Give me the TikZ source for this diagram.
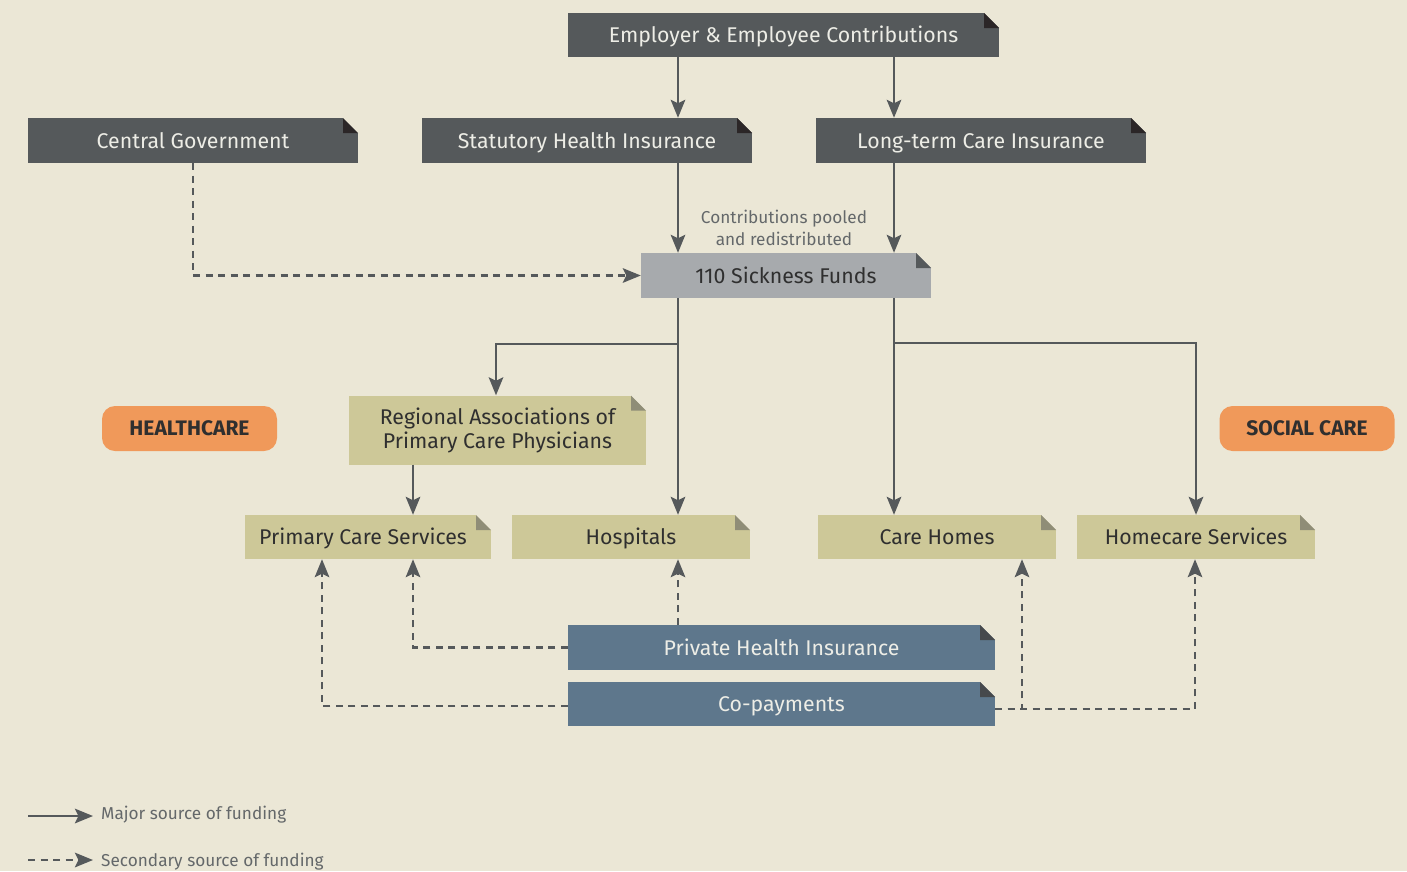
\documentclass[tikz,border=0pt]{standalone}
\usepackage{fontspec}
\setmainfont{Fira Sans}
\usetikzlibrary{arrows.meta}
\definecolor{bg}{HTML}{EBE7D6}
\definecolor{darkbox}{HTML}{55595B}
\definecolor{darkfold}{HTML}{2B2627}
\definecolor{midgrey}{HTML}{A7AAAD}
\definecolor{midfold}{HTML}{55595B}
\definecolor{khaki}{HTML}{CDC898}
\definecolor{khakifold}{HTML}{8F8D77}
\definecolor{slate}{HTML}{5E778C}
\definecolor{slatefold}{HTML}{46494C}
\definecolor{pill}{HTML}{F0995A}
\definecolor{txtlight}{HTML}{EDEDE6}
\definecolor{txtdark}{HTML}{2F2F2F}
\definecolor{linec}{HTML}{55595B}
\definecolor{labelc}{HTML}{64686A}
\tikzset{
  fold/.style={path picture={
    \fill[bg] ([xshift=-15pt]path picture bounding box.north east) -- (path picture bounding box.north east) -- ([yshift=-15pt]path picture bounding box.north east) -- cycle;
    \fill[#1] ([xshift=-15pt]path picture bounding box.north east) -- ([xshift=-15pt,yshift=-15pt]path picture bounding box.north east) -- ([yshift=-15pt]path picture bounding box.north east) -- cycle;
  }},
  box/.style={inner sep=0pt, font=\fontsize{21.3}{24}\selectfont, align=center, text height=15.4pt, text depth=0pt},
  box2/.style={inner sep=0pt, font=\fontsize{21.3}{24}\selectfont, align=center},
  darkbx/.style={box, fill=darkbox, text=txtlight, fold=darkfold},
  greybx/.style={box, fill=midgrey, text=txtdark, fold=midfold},
  khakibx/.style={box, fill=khaki, text=txtdark, fold=khakifold},
  khakibxtwo/.style={box2, fill=khaki, text=txtdark, fold=khakifold},
  slatebx/.style={box, fill=slate, text=txtlight, fold=slatefold},
  pillbx/.style={fill=pill, rounded corners=13pt, text=txtdark, inner sep=0pt, font=\fontsize{21}{24}\selectfont\bfseries, minimum width=175pt, minimum height=45pt, text height=14.6pt, text depth=0pt},
  major/.style={draw=linec, line width=2.6pt, -{Stealth[length=18pt,width=14.5pt,inset=3.5pt]}},
  minor/.style={major, dash pattern=on 7pt off 5.5pt},
  lbl/.style={text=labelc, font=\fontsize{17.2}{22}\selectfont, inner sep=0pt, align=center},
}
\begin{document}
\begin{tikzpicture}[x=1pt,y=-1pt]
\fill[bg] (0,0) rectangle (1407,871);
\useasboundingbox (0,0) rectangle (1407,871);

\node[darkbx, minimum width=431pt, minimum height=44pt] (emp) at (783.5,35) {Employer \& Employee Contributions};
\node[darkbx, minimum width=330pt, minimum height=45pt] (cg) at (193,140.5) {Central Government};
\node[darkbx, minimum width=330pt, minimum height=45pt] (shi) at (587,140.5) {Statutory Health Insurance};
\node[darkbx, minimum width=330pt, minimum height=45pt] (ltc) at (981,140.5) {Long-term Care Insurance};
\node[greybx, minimum width=290pt, minimum height=45pt] (sf) at (786,275.5) {110 Sickness Funds};
\node[lbl] (pool) at (784,228) {Contributions pooled\\and redistributed};
\node[khakibxtwo, minimum width=297pt, minimum height=69pt] (reg) at (497.5,430) {Regional Associations of\\Primary Care Physicians};
\node[khakibx, minimum width=246pt, minimum height=44pt] (pcs) at (368,537) {Primary Care Services\hspace{10pt}};
\node[khakibx, minimum width=238pt, minimum height=44pt] (hos) at (631,537) {Hospitals};
\node[khakibx, minimum width=238pt, minimum height=44pt] (ch) at (937,537) {Care Homes};
\node[khakibx, minimum width=238pt, minimum height=44pt] (hcs) at (1196,537) {Homecare Services};
\node[slatebx, minimum width=427pt, minimum height=45pt] (phi) at (781.5,647.5) {Private Health Insurance};
\node[slatebx, minimum width=427pt, minimum height=44pt] (cop) at (781.5,704) {Co-payments};
\node[pillbx] (hc) at (189.5,428.5) {HEALTHCARE};
\node[pillbx] (sc) at (1307,428.5) {SOCIAL CARE};

% major flows
\draw[major] (emp.south -| 678,0) -- (shi.north -| 678,0);
\draw[major] (emp.south -| 894,0) -- (ltc.north -| 894,0);
\draw[major] (shi.south -| 678,0) -- (sf.north -| 678,0);
\draw[major] (ltc.south -| 894,0) -- (sf.north -| 894,0);
\draw[major] (sf.south -| 678,0) -- (hos.north -| 678,0);
\draw[major] (sf.south -| 678,0) |- (587,344) -| (reg.north -| 496,0);
\draw[major] (sf.south -| 894,0) -- (ch.north -| 894,0);
\draw[major] (sf.south -| 894,0) |- (1000,343) -| (hcs.north -| 1196,0);
\draw[major] (reg.south -| 413,0) -- (pcs.north -| 413,0);

% secondary flows
\draw[minor] (cg.south) |- (sf.west);
\draw[minor] (phi.north -| 678,0) -- (hos.south -| 678,0);
\draw[minor] (phi.west) -| (pcs.south -| 413,0);
\draw[minor] (cop.west |- 0,706) -| (pcs.south -| 322,0);
\draw[minor] (cop.east |- 0,709) -| (ch.south -| 1022,0);
\draw[minor] (cop.east |- 0,709) -| (hcs.south -| 1195,0);

% legend
\coordinate (l1a) at (28,816);
\coordinate (l1b) at (93,816);
\coordinate (l2a) at (28,860);
\coordinate (l2b) at (93,860);
\draw[major] (l1a) -- (l1b);
\draw[minor] (l2a) -- (l2b);
\node[lbl, anchor=west] (leg1) at (101,815) {Major source of funding};
\node[lbl, anchor=west] (leg2) at (101,861.5) {Secondary source of funding};
\end{tikzpicture}
\end{document}
